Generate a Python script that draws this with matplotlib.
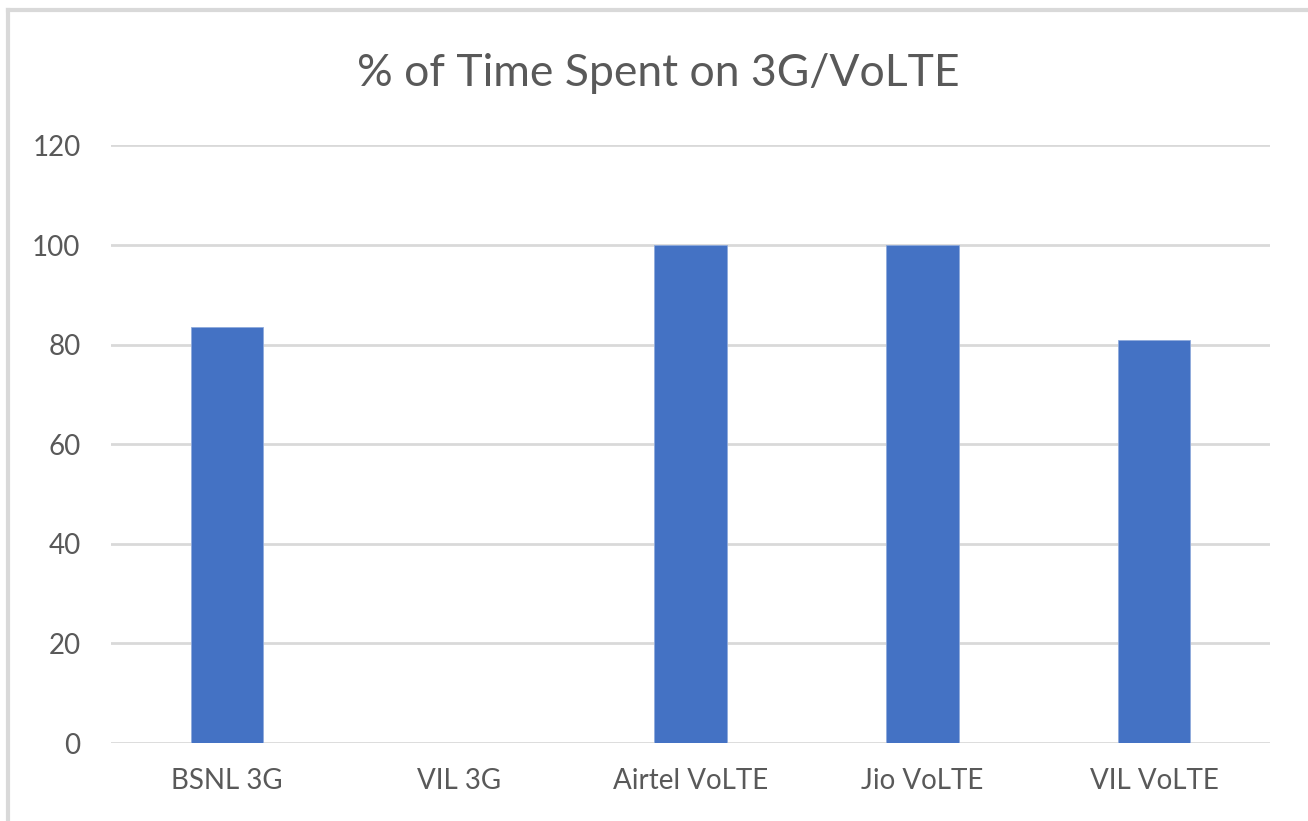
import matplotlib
matplotlib.use("Agg")
from matplotlib import pyplot as plt
from matplotlib.lines import Line2D

categories = ["BSNL 3G", "VIL 3G", "Airtel VoLTE", "Jio VoLTE", "VIL VoLTE"]
values = [83.6, 0, 100, 100, 80.9]
y_ticks = [0, 20, 40, 60, 80, 100, 120]

plt.rcParams["font.family"] = ["Lato", "DejaVu Sans"]
text_color = "#595959"

fig = plt.figure(figsize=(13.08, 8.21), dpi=100)
ax = fig.add_axes([0.0849, 0.0950, 0.886, 0.7279])

x = range(len(categories))
ax.bar(x, values, width=0.313, color="#4472C4", edgecolor="#8FAADC", linewidth=0.6, zorder=3)

ax.set_xlim(-0.5, len(categories) - 0.5)
ax.set_ylim(0, 120)
ax.set_yticks(y_ticks)
ax.set_xticks(list(x))
ax.set_xticklabels(categories)
ax.grid(axis="y", color="#D9D9D9", linewidth=2, zorder=0)
ax.tick_params(axis="both", length=0, labelsize=20, colors=text_color)
ax.tick_params(axis="y", pad=22)
ax.tick_params(axis="x", pad=18)
for s in ax.spines.values():
    s.set_visible(False)

fig.text(0.503, 0.91, "% of Time Spent on 3G/VoLTE", ha="center", va="center",
         fontsize=32, color=text_color)

# chart frame (top and left edges visible)
fig.add_artist(Line2D([8 / 1308, 1], [1 - 10 / 821, 1 - 10 / 821],
                      transform=fig.transFigure, color="#D9D9D9", linewidth=3))
fig.add_artist(Line2D([8 / 1308, 8 / 1308], [0, 1 - 10 / 821],
                      transform=fig.transFigure, color="#D9D9D9", linewidth=3))

plt.savefig("out.png", dpi=100)
